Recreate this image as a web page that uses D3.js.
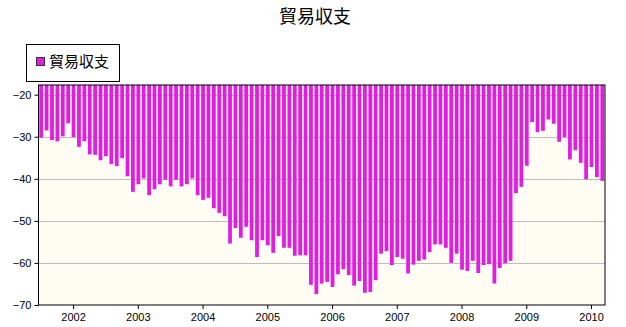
<!DOCTYPE html>
<html>
<head>
<meta charset="utf-8">
<script src="https://cdn.jsdelivr.net/npm/d3@7"></script>
<style>
    body { margin: 0; background: #fff; }
    text { font-family: Arial, "Liberation Sans", sans-serif; }
    .cjk { font-family: "Noto Sans CJK JP", sans-serif; }
</style>
</head>
<body>
<div id="chart"></div>
<script>
// monthly values, Jul 2001 .. Mar 2010
var startYear = 2001, startMonth = 7;
var values = [
    -30.2, -28.5, -30.8, -31.1, -29.9, -26.8,
    -30.1, -32.4, -31.1, -34.2, -34.3, -35.6, -34.6, -36.5, -37.0, -35.1, -39.4, -43.1,
    -41.3, -39.9, -43.9, -42.5, -41.3, -40.2, -41.8, -40.2, -41.8, -41.3, -39.9, -43.9,
    -45.0, -44.5, -47.0, -48.1, -48.9, -55.4, -51.7, -54.0, -51.4, -54.6, -58.6, -54.6,
    -55.8, -57.6, -53.6, -56.4, -56.4, -58.3, -58.2, -58.2, -65.2, -67.4, -64.9, -64.5,
    -65.7, -62.7, -61.5, -62.9, -65.4, -64.3, -67.1, -66.9, -64.1, -57.8, -57.2, -60.5,
    -58.6, -59.0, -62.5, -60.4, -59.5, -59.2, -57.4, -55.6, -55.6, -56.4, -60.0, -57.8,
    -61.6, -61.9, -59.5, -62.4, -60.5, -60.3, -64.9, -61.2, -60.1, -59.5, -43.4, -41.9,
    -36.9, -26.5, -28.9, -28.6, -25.9, -26.9, -31.2, -30.1, -35.4, -33.2, -36.2, -40.1,
    -37.2, -39.6, -40.5
];
var months = values.map(function (v, i) {
    var m = startMonth - 1 + i;
    return (startYear + Math.floor(m / 12)) + "-" + d3.format("02")(m % 12 + 1);
});
var yearLabels = ["2002", "2003", "2004", "2005", "2006", "2007", "2008", "2009", "2010"];
var yTicks = [-20, -30, -40, -50, -60, -70];
var title = "貿易収支";
var seriesName = "貿易収支";
var barColor = "#e31ce3";

var width = 626, height = 327;
var plot = {left: 38.5, right: 605, top: 85, bottom: 305};

var svg = d3.select("#chart").append("svg")
    .attr("width", width)
    .attr("height", height);

// scales
var x = d3.scaleBand()
    .domain(months)
    .range([plot.left, plot.right])
    .paddingInner(0.3)
    .paddingOuter(0.15);
var y = d3.scaleLinear()
    .domain([-70, -17.7])
    .range([plot.bottom, plot.top]);

// plot background
svg.append("rect")
    .attr("x", plot.left)
    .attr("y", plot.top)
    .attr("width", plot.right - plot.left)
    .attr("height", plot.bottom - plot.top)
    .style("fill", "#fffcf3");

// grid lines
svg.append("g")
    .selectAll("line")
    .data(yTicks.slice(0, -1))
    .enter()
    .append("line")
    .attr("x1", plot.left)
    .attr("x2", plot.right)
    .attr("y1", function (d) { return Math.round(y(d)) + 0.5; })
    .attr("y2", function (d) { return Math.round(y(d)) + 0.5; })
    .style("stroke", "#bdbdbd");

// bars hang from the top of the plot
svg.append("g")
    .selectAll("rect")
    .data(values)
    .enter()
    .append("rect")
    .attr("x", function (d, i) { return x(months[i]); })
    .attr("y", y(-17.7))
    .attr("width", x.bandwidth())
    .attr("height", function (d) { return y(d) - y(-17.7); })
    .style("fill", barColor);

// frame
svg.append("rect")
    .attr("x", plot.left)
    .attr("y", plot.top)
    .attr("width", plot.right - plot.left)
    .attr("height", plot.bottom - plot.top)
    .style("fill", "none")
    .style("stroke", "#000");

// y axis
var yAxis = svg.append("g")
    .attr("transform", "translate(" + plot.left + ",0)")
    .call(d3.axisLeft(y).tickValues(yTicks).tickSize(4).tickPadding(3));
yAxis.select(".domain").remove();
yAxis.selectAll("text").style("font-size", "11px").style("fill", "#000");

// x axis: ticks on each January
var janMonths = yearLabels.map(function (yr) { return yr + "-01"; });
var xAxis = svg.append("g")
    .attr("transform", "translate(0," + plot.bottom + ")")
    .call(d3.axisBottom(x).tickValues(janMonths).tickSize(4).tickPadding(4)
        .tickFormat(function (d, i) { return yearLabels[i]; }));
xAxis.select(".domain").remove();
xAxis.selectAll("text").style("font-size", "11px").style("fill", "#000");

// title
svg.append("text")
    .attr("class", "cjk")
    .attr("x", 315)
    .attr("y", 23)
    .attr("text-anchor", "middle")
    .style("font-size", "18px")
    .text(title);

// legend
var legend = svg.append("g");
legend.append("rect")
    .attr("x", 26.5)
    .attr("y", 44.5)
    .attr("width", 93)
    .attr("height", 37)
    .style("fill", "#fff")
    .style("stroke", "#000");
legend.append("rect")
    .attr("x", 36.5)
    .attr("y", 57.5)
    .attr("width", 8)
    .attr("height", 8)
    .style("fill", barColor)
    .style("stroke", "#333");
legend.append("text")
    .attr("class", "cjk")
    .attr("x", 49)
    .attr("y", 67)
    .style("font-size", "15px")
    .text(seriesName);
</script>
</body>
</html>
